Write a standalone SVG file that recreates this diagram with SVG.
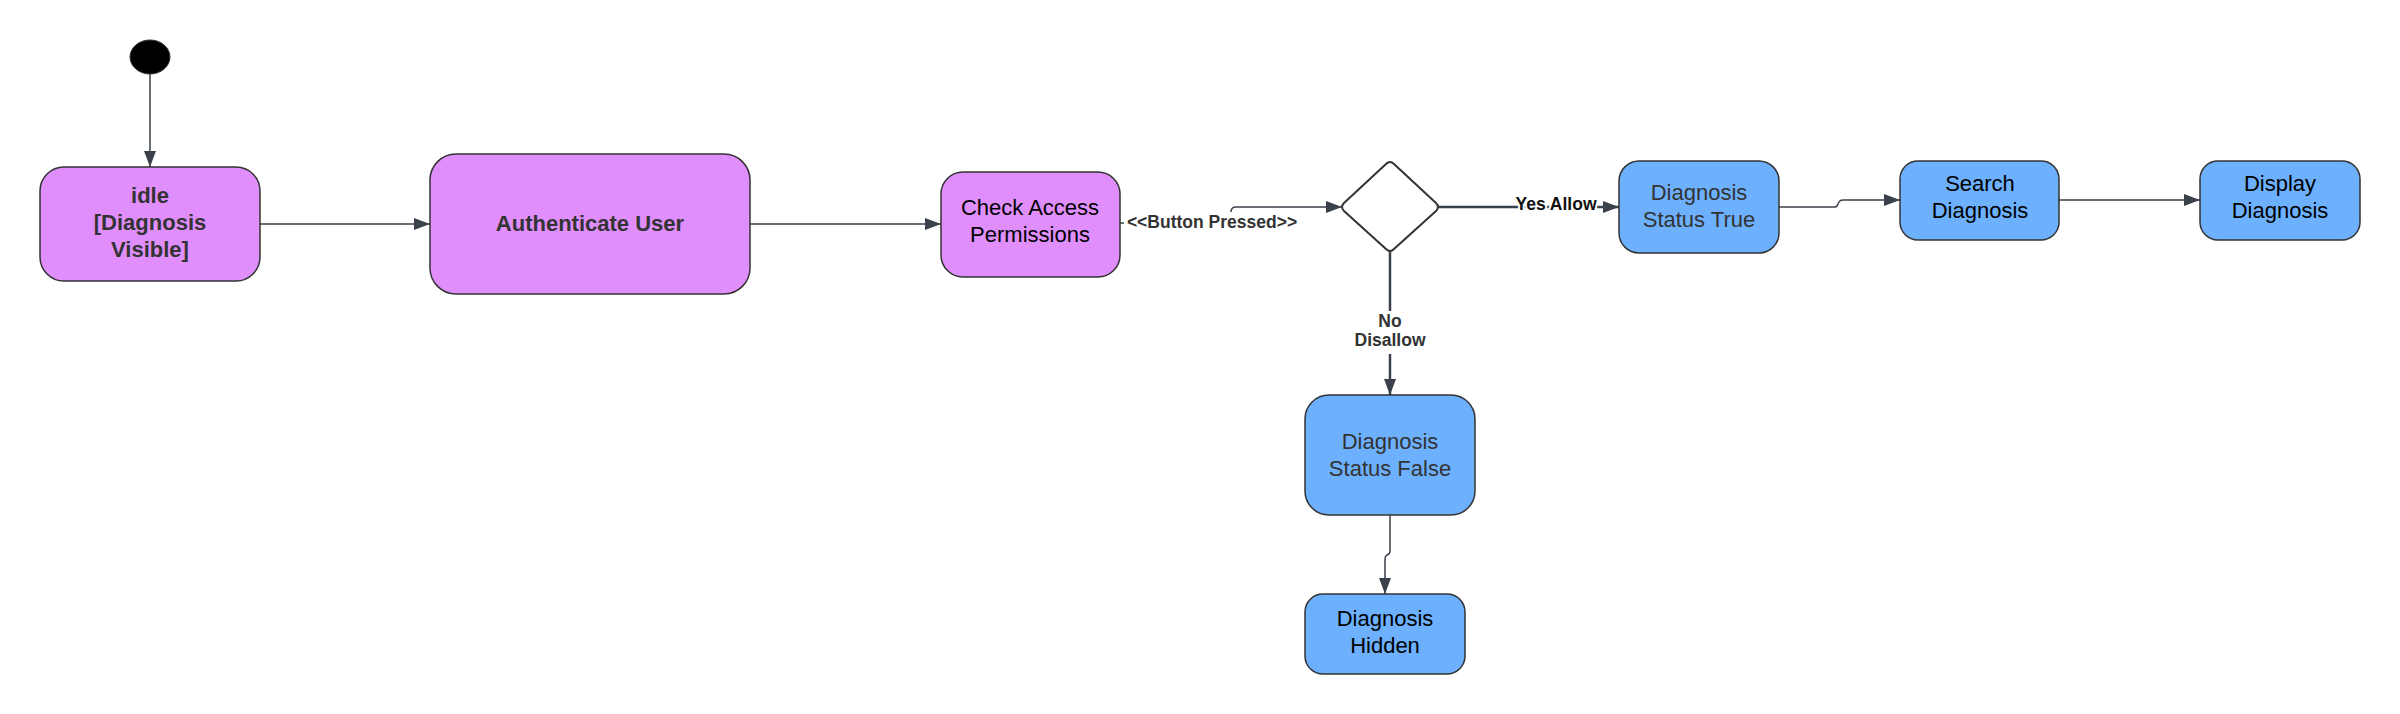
<svg xmlns="http://www.w3.org/2000/svg" width="2400" height="714" viewBox="0 0 2400 714">
<style>
.purple{fill:#e08efc;stroke:#333333;stroke-width:1.5}
.blue{fill:#6cb0fe;stroke:#333333;stroke-width:1.5}
.b{font-family:"Liberation Sans",Arial,sans-serif;font-weight:bold;fill:#333333;text-anchor:middle}
.r{font-family:"Liberation Sans",Arial,sans-serif;font-size:22px;text-anchor:middle}
.conn{fill:none;stroke:#3a414a;stroke-width:1.5}
.thick{fill:none;stroke:#3a414a;stroke-width:2.5}
.lbl{font-family:"Liberation Sans",Arial,sans-serif;font-weight:bold;font-size:17.5px;text-anchor:middle}
</style>
<defs>
<marker id="arr" viewBox="0 0 16 12" refX="16" refY="6" markerWidth="16" markerHeight="12" markerUnits="userSpaceOnUse" orient="auto">
<path d="M0,0 L16,6 L0,12 Z" fill="#3a414a"/>
</marker>
</defs>
<rect width="2400" height="714" fill="#ffffff"/>
<g id="connectors">
<path class="conn" d="M150,74 L150,167" marker-end="url(#arr)"/>
<path class="conn" d="M260,224 L430,224" marker-end="url(#arr)"/>
<path class="conn" d="M750,224 L941,224" marker-end="url(#arr)"/>
<path class="conn" d="M1120,223 L1231,223 L1231,212 Q1231,207 1236,207 L1342,207" marker-end="url(#arr)"/>
<path class="thick" d="M1438,207 L1619,207" marker-end="url(#arr)"/>
<path class="thick" d="M1390,251 L1390,395" marker-end="url(#arr)"/>
<path class="conn" d="M1779,207 L1835,207 Q1837,207 1838,204 L1839,202 Q1840,200 1843,200 L1900,200" marker-end="url(#arr)"/>
<path class="conn" d="M2059,200 L2200,200" marker-end="url(#arr)"/>
<path class="conn" d="M1390,515 L1390,551 Q1390,554 1387,555 Q1385,556 1385,559 L1385,594" marker-end="url(#arr)"/>
<rect x="1124" y="212" width="177" height="21" fill="#ffffff"/>
<text class="lbl" x="1212" y="228" fill="#333333">&lt;&lt;Button Pressed&gt;&gt;</text>
<text class="lbl" x="1556" y="210" fill="#111111" stroke="#ffffff" stroke-width="4" paint-order="stroke"><tspan>Yes</tspan> <tspan>Allow</tspan></text>
<rect x="1350" y="311" width="80" height="43" fill="#ffffff"/>
<text class="lbl" x="1390" y="327" fill="#333333">No</text>
<text class="lbl" x="1390" y="346" fill="#333333">Disallow</text>
</g>
<g id="start">
<ellipse cx="150" cy="57" rx="20" ry="17" fill="#000000" stroke="#333333" stroke-width="1"/>
</g>
<g id="idle">
<rect class="purple" x="40" y="167" width="220" height="114" rx="24"/>
<text class="b" x="150" y="203" font-size="22">idle</text>
<text class="b" x="150" y="230" font-size="22">[Diagnosis</text>
<text class="b" x="150" y="257" font-size="22">Visible]</text>
</g>
<g id="auth">
<rect class="purple" x="430" y="154" width="320" height="140" rx="26"/>
<text class="b" x="590" y="231" font-size="22">Authenticate User</text>
</g>
<g id="check">
<rect class="purple" x="941" y="172" width="179" height="105" rx="22"/>
<text class="r" x="1030" y="215" fill="#000000">Check Access</text>
<text class="r" x="1030" y="242" fill="#000000">Permissions</text>
</g>
<g id="decision">
<path d="M1386,164 Q1390,160 1394,164 L1436,203 Q1440,207 1436,211 L1394,249 Q1390,253 1386,249 L1344,211 Q1340,207 1344,203 Z" fill="#ffffff" stroke="#333333" stroke-width="2"/>
</g>
<g id="statusTrue">
<rect class="blue" x="1619" y="161" width="160" height="92" rx="20"/>
<text class="r" x="1699" y="200" fill="#333333">Diagnosis</text>
<text class="r" x="1699" y="227" fill="#333333">Status True</text>
</g>
<g id="search">
<rect class="blue" x="1900" y="161" width="159" height="79" rx="18"/>
<text class="r" x="1980" y="191" fill="#000000">Search</text>
<text class="r" x="1980" y="218" fill="#000000">Diagnosis</text>
</g>
<g id="display">
<rect class="blue" x="2200" y="161" width="160" height="79" rx="18"/>
<text class="r" x="2280" y="191" fill="#000000">Display</text>
<text class="r" x="2280" y="218" fill="#000000">Diagnosis</text>
</g>
<g id="statusFalse">
<rect class="blue" x="1305" y="395" width="170" height="120" rx="24"/>
<text class="r" x="1390" y="449" fill="#333333">Diagnosis</text>
<text class="r" x="1390" y="476" fill="#333333">Status False</text>
</g>
<g id="hidden">
<rect class="blue" x="1305" y="594" width="160" height="80" rx="18"/>
<text class="r" x="1385" y="626" fill="#000000">Diagnosis</text>
<text class="r" x="1385" y="653" fill="#000000">Hidden</text>
</g>
</svg>
